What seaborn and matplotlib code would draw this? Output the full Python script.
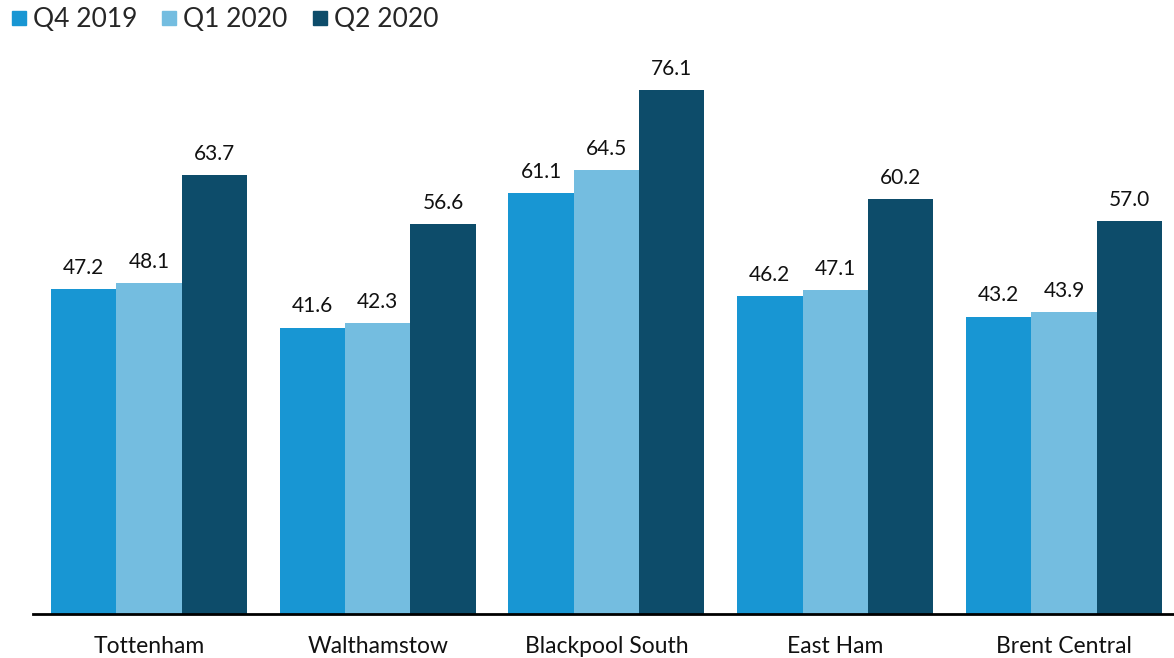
import pandas as pd
import matplotlib.pyplot as plt
import seaborn as sns

# データ
constituencies = ["Tottenham", "Walthamstow", "Blackpool South", "East Ham", "Brent Central"]
quarters = ["Q4 2019", "Q1 2020", "Q2 2020"]
q4_2019 = [47.2, 41.6, 61.1, 46.2, 43.2]
q1_2020 = [48.1, 42.3, 64.5, 47.1, 43.9]
q2_2020 = [63.7, 56.6, 76.1, 60.2, 57.0]
colors = ["#1896d3", "#74bde0", "#0d4c6a"]

df = pd.DataFrame({
    "constituency": constituencies * 3,
    "quarter": [q for q in quarters for _ in constituencies],
    "value": q4_2019 + q1_2020 + q2_2020,
})

sns.set_style("white")
plt.rcParams["font.family"] = ["Lato", "DejaVu Sans"]

fig = plt.figure(figsize=(11.74, 6.58), dpi=100)
ax = fig.add_axes([33 / 1174, 44 / 658, 1141 / 1174, 574 / 658])

sns.barplot(data=df, x="constituency", y="value", hue="quarter",
            palette=colors, width=0.857, saturation=1, linewidth=0,
            ax=ax, legend=False)

for cont in ax.containers:
    ax.bar_label(cont, fmt="%.1f", padding=8, fontsize=15, color="#111111")

ax.set_xlim(-0.507, 4.481)
ax.set_ylim(0, 574 / 6.886)
ax.set_xlabel("")
ax.set_ylabel("")
ax.set_yticks([])
ax.tick_params(axis="x", labelsize=16.5, length=0, pad=16, colors="#111111")
for side in ["top", "right", "left"]:
    ax.spines[side].set_visible(False)
ax.spines["bottom"].set_color("black")
ax.spines["bottom"].set_linewidth(2)

# 凡例
handles = [plt.Line2D([], [], marker="s", linestyle="", markersize=10,
                      color=c) for c in colors]
fig.legend(handles, quarters, loc="upper left", bbox_to_anchor=(-0.015, 1.025),
           ncol=3, frameon=False, fontsize=19, handletextpad=0.05,
           columnspacing=0.75, handlelength=0.95)

plt.savefig("out.png", dpi=100)
plt.close()
